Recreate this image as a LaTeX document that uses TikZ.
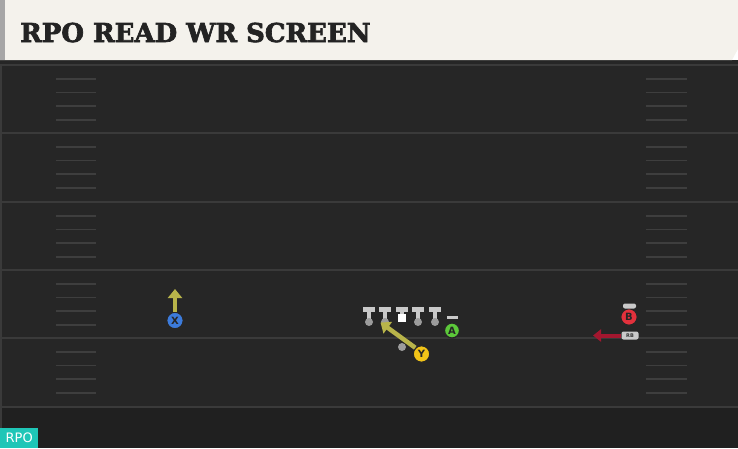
\documentclass[tikz,border=0pt]{standalone}
\usepackage{fontspec}
\newfontfamily\titlefont{DejaVu Serif}[BoldFeatures={FakeBold=2.5}]
\newfontfamily\tagfont{DejaVu Sans}
\usetikzlibrary{arrows.meta,positioning}

\definecolor{fieldbg}{HTML}{262626}
\definecolor{endbg}{HTML}{202020}
\definecolor{yardline}{HTML}{3A3A3A}
\definecolor{hashline}{HTML}{3E3E3E}
\definecolor{headerbg}{HTML}{F4F2EC}
\definecolor{headerside}{HTML}{A6A6A6}
\definecolor{titleink}{HTML}{232323}
\definecolor{routeolive}{HTML}{B8B44A}
\definecolor{routered}{HTML}{A3172F}
\definecolor{xblue}{HTML}{3C7BDB}
\definecolor{yyellow}{HTML}{F2C418}
\definecolor{agreen}{HTML}{5CC83A}
\definecolor{bred}{HTML}{E2313C}
\definecolor{olgrey}{HTML}{C9C9C9}
\definecolor{oldot}{HTML}{9C9C9C}
\definecolor{rpoteal}{HTML}{1FC6B7}

\begin{document}
\begin{tikzpicture}[
  x=1pt, y=-1pt,
  player/.style={circle, draw=black!85, line width=1.2pt, minimum size=16.5pt, inner sep=0pt,
    font=\tagfont\bfseries\fontsize{10}{10}\selectfont, text=black!85},
  dot/.style={circle, fill=oldot, minimum size=8pt, inner sep=0pt},
  route/.style={line width=4.5pt, draw=routeolive, -{Triangle[length=9pt,width=14pt]}},
  motion/.style={line width=4pt, draw=routered, -{Triangle[length=8pt,width=12pt]}},
  tag/.style={rounded corners=2pt, fill=olgrey, inner sep=0pt}
]
\useasboundingbox (0,0) rectangle (738,448);

% Field
\fill[fieldbg] (0,60) rectangle (738,448);
\fill[endbg] (0,407) rectangle (738,448);
\fill[black!85] (0,60) rectangle (738,64);
\draw[yardline, line width=1.5pt] (1,64) -- (1,448);
\foreach \yl in {65,133,202,270,338,407}
  \draw[yardline, line width=2pt] (0,\yl) -- (738,\yl);
\foreach \yl in {65,133,202,270,338}
  \foreach \k in {1,...,4} {
    \draw[hashline, line width=1.8pt] (56,\yl+13.7*\k) -- (96,\yl+13.7*\k);
    \draw[hashline, line width=1.8pt] (646,\yl+13.7*\k) -- (687,\yl+13.7*\k);
  }

% Header
\fill[headerbg] (0,0) -- (738,0) -- (738,49) -- (732,60) -- (0,60) -- cycle;
\fill[headerside] (0,0) rectangle (5,60);
\node[anchor=base west, inner sep=0pt, text=titleink,
  font=\titlefont\bfseries\fontsize{26}{26}\selectfont] (title) at (20,42) {RPO READ WR SCREEN};

% Offensive line
\foreach \x [count=\i] in {369,385,402,418,435} {
  \fill[olgrey] (\x-6,307) rectangle (\x+6,311.5);
  \fill[olgrey] (\x-2.2,311) rectangle (\x+2.2,320);
  \ifnum\i=3
    \node[fill=white, minimum size=8.5pt, inner sep=0pt] (ol\i) at (\x,318) {};
  \else
    \node[dot] (ol\i) at (\x,322) {};
  \fi
}

% Players
\node[dot] (qb) at (402,347) {};
\node[player, fill=xblue] (X) at (175,320.5) {X};
\node[player, fill=yyellow] (Y) at (421.5,354) {Y};
\node[player, fill=agreen, minimum size=15pt] (A) at (452,330.5) {A};
\fill[olgrey] (446.5,315.5) rectangle (457.5,318.5);
\node[player, fill=bred] (B) at (629,317) {B};
\node[tag, minimum width=13pt, minimum height=5pt] (Bbar) at (629.5,306) {};
\node[tag, minimum width=17pt, minimum height=8pt,
  font=\tagfont\bfseries\fontsize{5}{5}\selectfont, text=black!80] (RB) at (630,335.5) {RB};

% Routes
\coordinate (Xend) at (175,289);
\coordinate (Yend) at (380.5,322.5);
\coordinate (RBend) at (593,335.5);
\draw[route] (X.north) -- (Xend);
\draw[route] (Y.north west) -- (Yend);
\draw[motion] (RB.west) -- (RBend);

% RPO tag
\node[anchor=south west, fill=rpoteal, minimum width=38pt, minimum height=20pt, inner sep=0pt,
  text=white, font=\tagfont\fontsize{13}{13}\selectfont] (rpo) at (0,448) {RPO};

\end{tikzpicture}
\end{document}
